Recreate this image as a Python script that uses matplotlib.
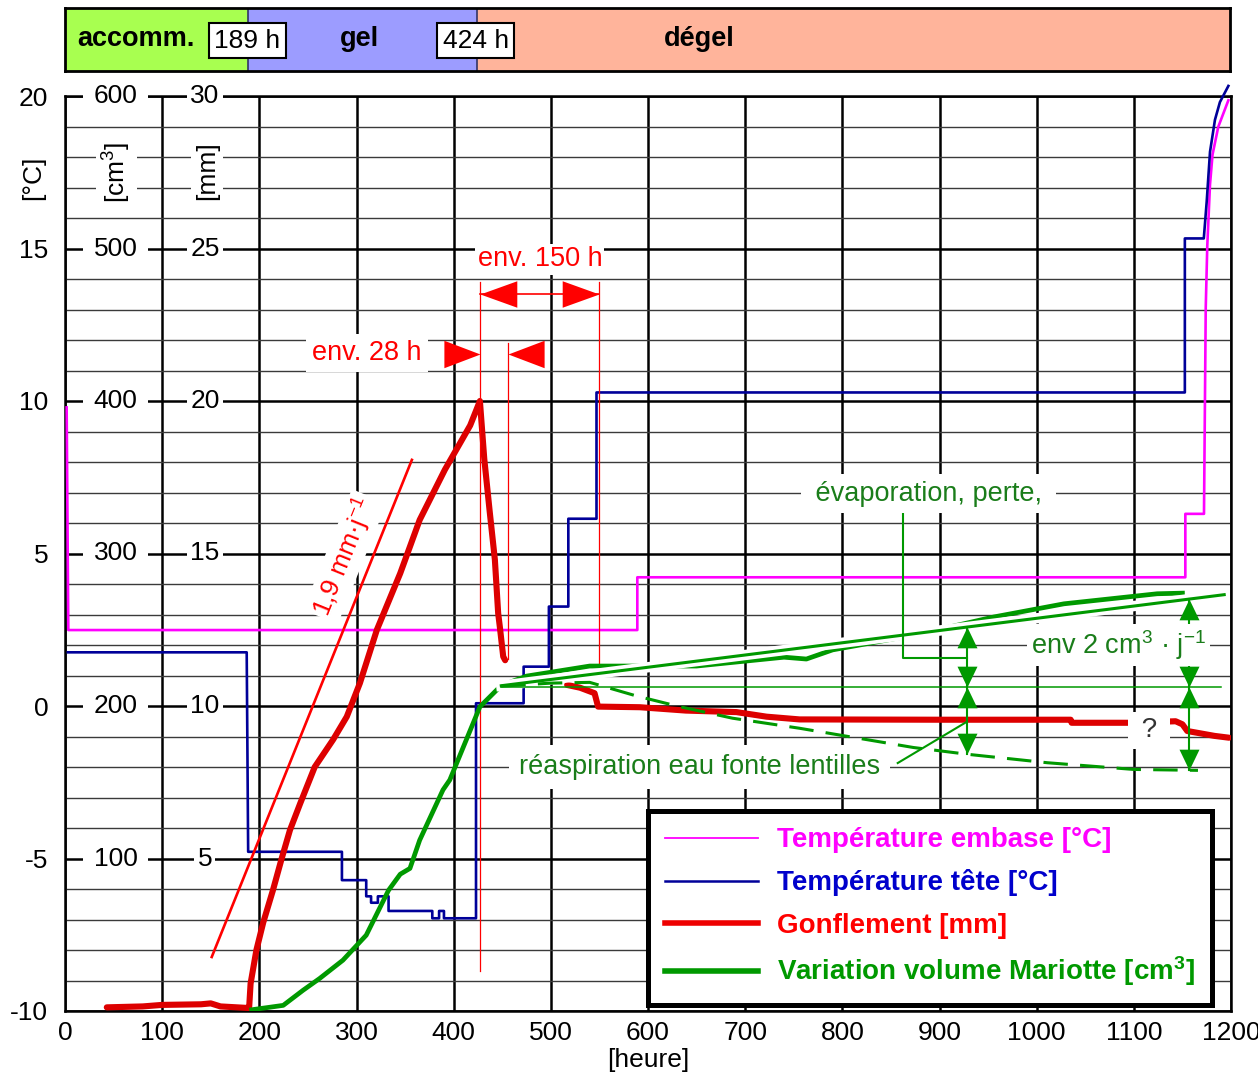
import numpy as np
import matplotlib
matplotlib.use("Agg")
import matplotlib.pyplot as plt
from matplotlib.lines import Line2D
import matplotlib.patheffects as pe

plt.rcParams['font.family'] = ['Liberation Sans', 'DejaVu Sans']
plt.rcParams['mathtext.fontset'] = 'custom'
plt.rcParams['mathtext.rm'] = 'Liberation Sans'
plt.rcParams['mathtext.it'] = 'Liberation Sans:italic'
plt.rcParams['mathtext.bf'] = 'Liberation Sans:bold'
plt.rcParams['axes.unicode_minus'] = False

# ---------------- data ----------------
phase_names = ['accomm.', 'gel', 'dégel']
phase_bounds = [0, 189, 424, 1200]
phase_marks = ['189 h', '424 h']
phase_colors = ['#a8ff50', '#9c9cff', '#ffb49b']

x_ticks = list(range(0, 1201, 100))
T_ticks = [-10, -5, 0, 5, 10, 15, 20]
cm3_ticks = [100, 200, 300, 400, 500, 600]
mm_ticks = [5, 10, 15, 20, 25, 30]

# Température embase [°C]
t_embase = [1.7, 3.4, 589, 589, 1153, 1153, 1172.2, 1174, 1175.6, 1178.4, 1181, 1186.9, 1197.3]
T_embase = [9.79, 2.49, 2.49, 4.22, 4.22, 6.3, 6.3, 13.06, 15.1, 17.1, 18.08, 18.99, 19.86]

# Température tête [°C]
t_tete = [3, 187, 188.5, 285, 285, 310, 310, 315, 315, 322, 322, 333, 333, 378, 378, 385, 385,
          390, 390, 423, 423, 472, 472, 498, 498, 518, 518, 547, 547, 1152.5, 1152.5, 1172,
          1175, 1178.4, 1183.5, 1188.6, 1197.3]
T_tete = [1.76, 1.76, -4.78, -4.78, -5.71, -5.71, -6.24, -6.24, -6.45, -6.45, -6.24, -6.24, -6.72,
          -6.72, -6.96, -6.96, -6.72, -6.72, -6.96, -6.96, 0.09, 0.09, 1.29, 1.29, 3.26, 3.26,
          6.14, 6.14, 10.28, 10.28, 15.33, 15.33, 16.54, 18.17, 19.22, 19.8, 20.33]

# Gonflement [mm]
t_gonfl = [43, 80, 100, 140, 150, 160, 188, 189.5, 191, 197, 204, 214, 223, 231.5, 242, 257, 276,
           290, 303.5, 314, 321, 345, 365, 391, 417, 427, 431.5, 437, 442.4, 445.8, 447.5, 451,
           453, np.nan, 516.8, 530, 545, 548.6, 591.6, 639, 691, 722, 756, 900, 1035, 1036, 1099,
           1143, 1150, 1155, 1183, 1198]
mm_gonfl = [0.12, 0.15, 0.2, 0.22, 0.25, 0.15, 0.1, 0.1, 0.9, 2.0, 2.9, 3.96, 5.0, 5.93, 6.8, 8.0,
            8.9, 9.65, 10.75, 11.8, 12.5, 14.35, 16.1, 17.75, 19.2, 20.0, 18.1, 16.4, 14.8, 13.04,
            12.6, 11.62, 11.5, np.nan, 10.69, 10.6, 10.42, 9.98, 9.96, 9.85, 9.8, 9.65, 9.56, 9.55,
            9.55, 9.45, 9.45, 9.5, 9.4, 9.18, 9.02, 8.96]

# Variation volume Mariotte [cm3]
t_mariotte = [192, 224.6, 245, 262, 286, 310, 333, 345, 355, 365, 389, 396, 427, 449, 475, 540,
              650, 740, 763, 790, 870, 956, 1028, 1124, 1150]
cm3_mariotte = [0.8, 3.7, 13.6, 21.3, 33.3, 49.7, 79.2, 89.7, 93.5, 112, 145, 151.5, 199.5, 213.5,
                219.6, 226.2, 226.2, 232, 230.8, 236.8, 246, 258.4, 267, 273.6, 274]

# interpretation lines
t_rate = [151, 357]
mm_rate = [1.77, 18.07]
t_trend = [449, 1193]
cm3_trend = [213.3, 273.0]
t_ref = [449, 1190]
cm3_ref = [212.6, 212.6]
t_reasp = [449, 500, 540, 588, 633, 687, 756, 873, 928, 1011, 1100, 1166]
cm3_reasp = [213, 215, 215.5, 206.6, 199.5, 192, 185.4, 172.8, 168.4, 162.8, 158.4, 157.8]

# time markers of the annotations [h]
t_peak, t_28, t_150 = 427, 455.8, 549.4
t_arrowL, t_arrowR = 928, 1157

# ---------------- figure ----------------
W, H = 1258, 1076
fig = plt.figure(figsize=(W / 100, H / 100), dpi=100)
L, R, B, TOP = 65, 1231, 1011, 96
pos = [L / W, 1 - B / H, (R - L) / W, (B - TOP) / H]
ax = fig.add_axes(pos)
ax.set_xlim(0, 1200)
ax.set_ylim(-10, 20)
ax.set_xticks(x_ticks)
ax.set_yticks(T_ticks)
ax.set_yticks(np.arange(-10, 21, 1), minor=True)
ax.set_axisbelow(True)
ax.grid(True, which='major', color='black', lw=1.8)
ax.grid(True, which='minor', axis='y', color='#3a3a3a', lw=1.0)
ax.tick_params(axis='both', which='both', length=0, labelsize=19)
ax.tick_params(axis='y', pad=12)
ax.tick_params(axis='x', pad=7)
for s in ax.spines.values():
    s.set_linewidth(1.8)
    s.set_zorder(0.6)
ax.set_xlabel('[heure]', fontsize=19, labelpad=2)

for T, c in zip(T_ticks[1:], cm3_ticks):
    ax.text(52, T, str(c), ha='center', va='center', fontsize=19, zorder=2,
            bbox=dict(boxstyle='square,pad=0.4', fc='white', ec='none'))
for T, m in zip(T_ticks[1:], mm_ticks):
    ax.text(144, T, str(m), ha='center', va='center', fontsize=19, zorder=2,
            bbox=dict(boxstyle='square,pad=0.12', fc='white', ec='none'))
ax.text(-33, 17.33, '[°C]', rotation=90, ha='center', va='center', fontsize=19, clip_on=False)
ax.text(53, 17.5, '[cm$^{3}$]', rotation=90, ha='center', va='center', fontsize=19, zorder=2,
        bbox=dict(boxstyle='square,pad=0.15', fc='white', ec='none'))
ax.text(146, 17.55, '[mm]', rotation=90, ha='center', va='center', fontsize=19, zorder=2,
        bbox=dict(boxstyle='square,pad=0.15', fc='white', ec='none'))

ax.plot(t_embase, T_embase, color='#ff00ff', lw=1.9, zorder=3)
ax.plot(t_tete, T_tete, color='#000099', lw=1.9, zorder=3, clip_on=False)

# ---- gonflement axis (mm) ----
ax_mm = ax.twinx()
ax_mm.set_ylim(0, 30)
ax_mm.set_axis_off()
ax_mm.plot(t_gonfl, mm_gonfl, color='#dd0000', lw=4.4, solid_joinstyle='round',
           solid_capstyle='round')
ax_mm.plot(t_rate, mm_rate, color='#ff0000', lw=1.9)


def tri(direction, h):
    if direction == 'left':
        return [(0, 0), (1, h), (1, -h)]
    if direction == 'right':
        return [(0, 0), (-1, h), (-1, -h)]
    if direction == 'up':
        return [(0, 0), (h, -1), (-h, -1)]
    return [(0, 0), (h, 1), (-h, 1)]


red = '#ff0000'
y150, y28 = 23.52, 21.55
ax_mm.plot([t_peak, t_peak], [23.9, 1.3], color=red, lw=0.9)
ax_mm.plot([t_28, t_28], [21.9, 11.55], color=red, lw=0.9)
ax_mm.plot([t_150, t_150], [23.9, 11.3], color=red, lw=0.9)
ax_mm.plot([t_peak, t_150], [y150, y150], color=red, lw=1.2)
ax_mm.plot([t_peak], [y150], marker=tri('left', 0.36), ms=53, color=red, mew=0)
ax_mm.plot([t_150], [y150], marker=tri('right', 0.36), ms=53, color=red, mew=0)
ax_mm.plot([t_peak], [y28], marker=tri('right', 0.38), ms=52, color=red, mew=0)
ax_mm.plot([t_28], [y28], marker=tri('left', 0.38), ms=52, color=red, mew=0)

# ---- Mariotte axis (cm3) ----
ax_cm = ax.twinx()
ax_cm.set_ylim(0, 600)
ax_cm.set_axis_off()
green = '#009900'
ax_cm.plot(t_mariotte, cm3_mariotte, color=green, lw=3.4, solid_joinstyle='round')
ax_cm.plot(t_trend, cm3_trend, color=green, lw=2.2,
           path_effects=[pe.Stroke(linewidth=7.5, foreground='white'), pe.Normal()])
ax_cm.plot(t_ref, cm3_ref, color=green, lw=1.1)
ax_cm.plot(t_reasp, cm3_reasp, color=green, lw=2.2, dashes=(8, 4))

for tx in (t_arrowL, t_arrowR):
    top = np.interp(tx, t_trend, cm3_trend)
    mid = cm3_ref[0]
    bot = np.interp(tx, t_reasp, cm3_reasp)
    ax_cm.plot([tx, tx], [top, bot], color=green, lw=1.5)
    ax_cm.plot([tx], [top], marker=tri('up', 0.48), ms=30, color=green, mew=0)
    ax_cm.plot([tx], [mid], marker=tri('down', 0.48), ms=30, color=green, mew=0)
    ax_cm.plot([tx], [mid], marker=tri('up', 0.48), ms=30, color=green, mew=0)
    ax_cm.plot([tx], [bot], marker=tri('down', 0.48), ms=30, color=green, mew=0)

# connectors
ax_cm.plot([862, 862, t_arrowL], [339, 231.5, 231.5], color=green, lw=1.5)
ax_cm.plot([857, t_arrowL], [162.6, 189.6], color=green, lw=1.5)

# ---- texts ----
dgreen = '#1a7d1a'
tr = ax.transData
ax_cm.text(488.7, 14.64, 'env. 150 h', transform=tr, color=red, fontsize=19.5, ha='center',
           va='center', zorder=6, bbox=dict(boxstyle='square,pad=0.08', fc='white', ec='none'))
ax_cm.text(310.7, 11.58, 'env. 28 h', transform=tr, color=red, fontsize=19.5, ha='center',
           va='center', zorder=6, bbox=dict(boxstyle='square,pad=0.22', fc='white', ec='none'))
ax_cm.text(288, 4.9, '1,9 mm·j$^{-1}$', transform=tr, color=red, fontsize=19, ha='center',
           va='center', rotation=68, zorder=1,
           bbox=dict(boxstyle='square,pad=0.1', fc='white', ec='none'))
ax_cm.text(888.6, 6.96, ' évaporation, perte, ', transform=tr, color=dgreen, fontsize=19.5,
           ha='center', va='center', zorder=6,
           bbox=dict(boxstyle='square,pad=0.25', fc='white', ec='none'))
ax_cm.text(653, -2.0, 'réaspiration eau fonte lentilles', transform=tr, color=dgreen,
           fontsize=19.5, ha='center', va='center', zorder=6,
           bbox=dict(boxstyle='square,pad=0.35', fc='white', ec='none'))
ax_cm.text(1084, 2.0, 'env 2 cm$^{3}$ · j$^{-1}$', transform=tr, color=dgreen, fontsize=19.5,
           ha='center', va='center', zorder=6,
           bbox=dict(boxstyle='square,pad=0.15', fc='white', ec='none'))
ax_cm.text(1116, -0.79, ' ? ', transform=tr, color='#333333', fontsize=20, ha='center',
           va='center', zorder=6, bbox=dict(boxstyle='square,pad=0.2', fc='white', ec='none'))

# ---- legend ----
handles = [Line2D([], [], color='#ff00ff', lw=1.3),
           Line2D([], [], color='#000099', lw=1.8),
           Line2D([], [], color='#ee0000', lw=4.0),
           Line2D([], [], color=green, lw=4.0)]
labels = ['Température embase [°C]', 'Température tête [°C]', 'Gonflement [mm]',
          'Variation volume Mariotte [cm$^{\\mathbf{3}}$]']
leg = ax_cm.legend(handles, labels, loc='upper left', bbox_to_anchor=(0.5, 0.219),
                   prop={'weight': 'bold', 'size': 20}, frameon=True, fancybox=False,
                   edgecolor='black', framealpha=1, handlelength=3.35, handletextpad=0.7,
                   labelspacing=0.58, borderpad=0.6, borderaxespad=0)
leg.get_frame().set_linewidth(3.6)
leg.set_zorder(10)
for txt, c in zip(leg.get_texts(), ['#ff00ff', '#0000cc', '#ff0000', green]):
    txt.set_color(c)

for a in (ax, ax_mm, ax_cm):
    a.set_xlim(0, 1200)

# ---- phase bar ----
axp = fig.add_axes([L / W, 1 - 71 / H, (1230 - L) / W, 63 / H])
axp.set_xlim(0, 1200)
axp.set_ylim(0, 1)
for i in range(3):
    axp.axvspan(phase_bounds[i], phase_bounds[i + 1], color=phase_colors[i], lw=0)
for b in phase_bounds[1:3]:
    axp.axvline(b, color='#333366', lw=1.2)
axp.set_xticks([])
axp.set_yticks([])
for s in axp.spines.values():
    s.set_linewidth(2.0)
for name, xc in zip(phase_names, [73, 303.5, 653]):
    axp.text(xc, 0.5, name, ha='center', va='center', fontsize=19.5, fontweight='bold')
for mk, b in zip(phase_marks, phase_bounds[1:3]):
    axp.text(b - 1, 0.48, mk, ha='center', va='center', fontsize=19,
             bbox=dict(boxstyle='square,pad=0.2', fc='white', ec='black', lw=1.5))

fig.savefig('out.png', dpi=100)
